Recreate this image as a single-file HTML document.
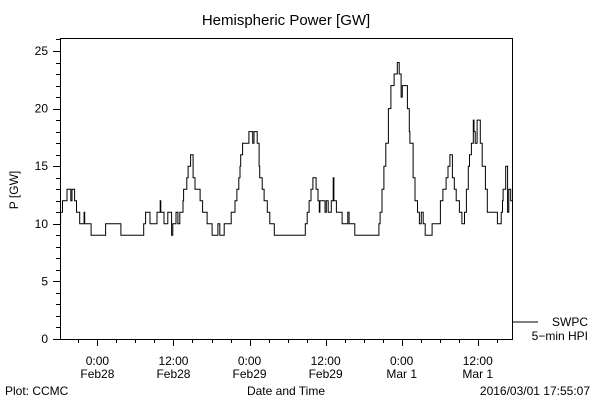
<!DOCTYPE html>
<html><head><meta charset="utf-8"><style>
body{margin:0;background:#fff;width:600px;height:400px;overflow:hidden}
svg text{font-family:"Liberation Sans",sans-serif;font-size:12px;fill:#000}
</style></head><body>
<svg id="chart" width="600" height="400" viewBox="0 0 600 400" xmlns="http://www.w3.org/2000/svg">
<rect width="600" height="400" fill="#fff"/>
<text x="286" y="25" text-anchor="middle" style="font-size:15px">Hemispheric Power [GW]</text>
<text transform="translate(18,190) rotate(-90)" text-anchor="middle">P [GW]</text>
<text x="286" y="395" text-anchor="middle">Date and Time</text>
<text x="5" y="395">Plot: CCMC</text>
<text x="590" y="395" text-anchor="end">2016/03/01 17:55:07</text>
<line x1="513" y1="322" x2="538" y2="322" stroke="#000"/>
<text x="588" y="326" text-anchor="end">SWPC</text>
<text x="588" y="340" text-anchor="end">5−min HPI</text>
<g id="axes"></g>
<path id="series" fill="none" stroke="#000" stroke-width="1"/>
<rect x="60.5" y="38.5" width="452" height="301" fill="none" stroke="#000"/>
</svg>
<script>
// hours since Feb 28 00:00
const times=[-5.9,-5.8,-5.5,-4.8,-4.2,-4.0,-3.6,-3.3,-2.8,-2.1,-2.0,-1.0,1.3,3.7,7.3,7.6,8.3,9.4,9.9,10.0,10.5,11.1,11.7,11.9,12.4,12.7,13.0,13.5,13.6,14.1,14.3,14.7,15.1,15.4,16.2,16.6,17.3,18.1,19.0,19.3,20.0,21.1,21.7,22.0,22.3,22.5,22.6,22.9,23.9,24.5,24.7,25.2,25.5,25.6,26.0,26.3,26.8,27.2,27.9,32.8,33.1,33.4,33.7,34.0,34.5,34.8,35.0,35.1,35.9,36.1,36.4,36.9,37.2,37.3,37.7,38.6,39.5,39.7,40.6,44.4,44.6,44.9,45.2,45.5,45.9,46.3,46.8,47.3,47.6,47.9,48.1,48.9,49.2,49.3,49.8,50.1,50.5,50.8,51.1,51.4,51.7,52.8,54.1,54.5,55.0,55.3,55.6,56.0,56.3,56.6,57.1,57.5,57.9,58.2,58.5,58.7,59.0,59.3,59.4,59.6,59.9,60.4,60.7,61.2,61.5,63.1,63.7,63.9,64.0,64.4,64.7,64.9,65.2];
const values=[10,11,12,13,12,13,12,11,10,11,10,9,10,9,10,11,10,11,12,11,10,11,9,10,11,10,11,12,13,14,15,16,14,13,12,11,10,9,10,9,10,11,12,13,14,15,16,17,18,17,18,17,15,14,13,12,11,10,9,10,11,12,13,14,13,12,11,12,11,12,11,12,14,12,11,10,11,10,9,10,11,13,15,17,20,22,23,24,23,21,22,20,18,17,14,12,11,10,11,10,9,10,12,13,14,15,16,14,13,12,11,10,11,13,15,16,17,19,18,17,19,17,15,13,11,10,11,12,13,15,11,13,12];
const tEnd=65.4;
const yTicks=[0,5,10,15,20,25];
const xTickHours=[0,12,24,36,48,60];
const xTickLabels=[["0:00","Feb28"],["12:00","Feb28"],["0:00","Feb29"],["12:00","Feb29"],["0:00","Mar 1"],["12:00","Mar 1"]];
const L=60,R=512,T=38,B=339,t0=times[0];
const xs=t=>L+(t-t0)/(tEnd-t0)*(R-L);
const ys=v=>B-v*11.52;
const NS="http://www.w3.org/2000/svg";
const axes=document.getElementById('axes');
function ln(x1,y1,x2,y2,name){const l=document.createElementNS(NS,'line');l.setAttribute('x1',x1);l.setAttribute('y1',y1);l.setAttribute('x2',x2);l.setAttribute('y2',y2);l.setAttribute('stroke','#000');


axes.appendChild(l);}
function tx(x,y,s,anchor,name){const e=document.createElementNS(NS,'text');e.setAttribute('x',x);e.setAttribute('y',y);e.setAttribute('text-anchor',anchor);e.textContent=s;


axes.appendChild(e);}
for(let v=0;v<=26;v++){const y=Math.round(ys(v))+0.5;ln(L-(v%5?4:7),y,L,y,'y-tick');}
yTicks.forEach(v=>tx(48,ys(v)+4,String(v),'end','y-tick-label'));
for(let h=-3;h<=tEnd;h+=3){if(h<t0)continue;const x=Math.round(xs(h))+0.5;ln(x,B,x,B+(h%12?4:7),'x-tick');}
xTickHours.forEach((h,i)=>{tx(xs(h),B+26,xTickLabels[i][0],'middle','x-tick-label');tx(xs(h),B+39,xTickLabels[i][1],'middle','x-tick-date');});
let d='M'+xs(times[0]).toFixed(1)+','+ys(values[0]).toFixed(1);
for(let i=1;i<times.length;i++){const x=xs(times[i]).toFixed(1);d+='H'+x+'V'+ys(values[i]).toFixed(1);}
d+='H'+xs(tEnd).toFixed(1);
document.getElementById('series').setAttribute('d',d);
</script>
</body></html>
